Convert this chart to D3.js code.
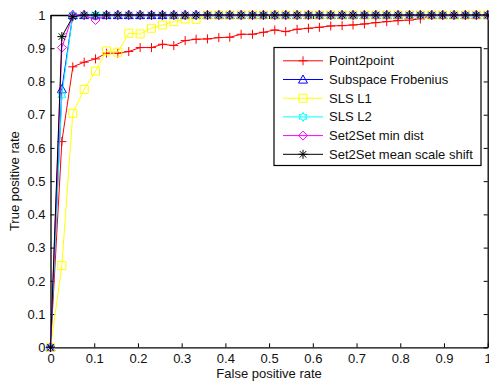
<!DOCTYPE html>
<html>
<head>
<meta charset="utf-8">
<script src="https://cdn.jsdelivr.net/npm/d3@7"></script>
<style>
  html, body { margin: 0; padding: 0; background: #fff; }
  svg { display: block; font-family: "Liberation Sans", Arial, sans-serif; }
</style>
</head>
<body>
<svg id="chart" width="489" height="382"></svg>
<script>
// ---- data ----
const fpr = [0, .026, .051, .077, .103, .128, .154, .179, .205, .231, .256, .282, .308, .333, .359, .385, .410, .436, .462, .487,
             .513, .538, .564, .590, .615, .641, .667, .692, .718, .744, .769, .795, .821, .846, .872, .897, .923, .949, .974, 1];
const point2point = [0, 0.619, 0.844, 0.858, 0.868, 0.885, 0.885, 0.890, 0.902, 0.902, 0.912, 0.908, 0.923, 0.927, 0.928, 0.932, 0.933, 0.942, 0.942, 0.948,
                     0.955, 0.950, 0.957, 0.960, 0.963, 0.967, 0.968, 0.970, 0.973, 0.977, 0.980, 0.983, 0.985, 0.988, 1, 1, 1, 1, 1, 1];
const subspaceFrob = [0, 0.777, 1, 1, 1, 1, 1, 1, 1, 1, 1, 1, 1, 1, 1, 1, 1, 1, 1, 1,
                      1, 1, 1, 1, 1, 1, 1, 1, 1, 1, 1, 1, 1, 1, 1, 1, 1, 1, 1, 1];
const slsL1 = [0, 0.246, 0.704, 0.776, 0.831, 0.892, 0.888, 0.945, 0.943, 0.960, 0.970, 0.980, 0.988, 0.987, 1, 1, 1, 1, 1, 1,
               1, 1, 1, 1, 1, 1, 1, 1, 1, 1, 1, 1, 1, 1, 1, 1, 1, 1, 1, 1];
const slsL2 = [0, 0.759, 1, 1, 1, 1, 1, 1, 1, 1, 1, 1, 1, 1, 1, 1, 1, 1, 1, 1,
               1, 1, 1, 1, 1, 1, 1, 1, 1, 1, 1, 1, 1, 1, 1, 1, 1, 1, 1, 1];
const set2setMin = [0, 0.902, 1, 1, 0.985, 1, 1, 1, 1, 1, 1, 1, 1, 1, 1, 1, 1, 1, 1, 1,
                    1, 1, 1, 1, 1, 1, 1, 1, 1, 1, 1, 1, 1, 1, 1, 1, 1, 1, 1, 1];
const set2setMean = [0, 0.935, 0.995, 1, 1, 1, 1, 1, 1, 1, 1, 1, 1, 1, 1, 1, 1, 1, 1, 1,
                     1, 1, 1, 1, 1, 1, 1, 1, 1, 1, 1, 1, 1, 1, 1, 1, 1, 1, 1, 1];
const seriesNames = ["Point2point", "Subspace Frobenius", "SLS L1", "SLS L2", "Set2Set min dist", "Set2Set mean scale shift"];
const seriesValues = [point2point, subspaceFrob, slsL1, slsL2, set2setMin, set2setMean];
const seriesColors = ["#ff0000", "#0000ff", "#ffff00", "#00ffff", "#ff00ff", "#000000"];
const seriesMarkers = ["plus", "triangle", "square", "hexagram", "diamond", "asterisk"];
const xTicks = [0, 0.1, 0.2, 0.3, 0.4, 0.5, 0.6, 0.7, 0.8, 0.9, 1];
const yTicks = [0, 0.1, 0.2, 0.3, 0.4, 0.5, 0.6, 0.7, 0.8, 0.9, 1];
const xLabel = "False positive rate";
const yLabel = "True positive rate";

// ---- layout ----
const svg = d3.select("#chart");
const L = 50.5, R = 487.7, T = 15, B = 347.3;
const x = d3.scaleLinear().domain([0, 1]).range([L, R]);
const y = d3.scaleLinear().domain([0, 1]).range([B, T]);
const fmt = d => d3.format("~g")(d);

// axes
const ax = svg.append("g");
ax.append("g").attr("transform", `translate(0,${B})`)
  .call(d3.axisBottom(x).tickValues(xTicks).tickFormat(fmt).tickSizeInner(-4).tickSizeOuter(0).tickPadding(6));
ax.append("g").attr("transform", `translate(0,${T})`)
  .call(d3.axisTop(x).tickValues(xTicks).tickFormat("").tickSizeInner(-4).tickSizeOuter(0));
ax.append("g").attr("transform", `translate(${L},0)`)
  .call(d3.axisLeft(y).tickValues(yTicks).tickFormat(fmt).tickSizeInner(-4).tickSizeOuter(0).tickPadding(5));
ax.append("g").attr("transform", `translate(${R},0)`)
  .call(d3.axisRight(y).tickValues(yTicks).tickFormat("").tickSizeInner(-4).tickSizeOuter(0));
ax.selectAll("path.domain").attr("stroke", "#000").attr("stroke-width", 1.3);
ax.selectAll(".tick line").attr("stroke", "#000").attr("stroke-width", 1);
ax.selectAll(".tick text").attr("font-size", 13).attr("fill", "#111")
  .attr("font-family", "'Liberation Sans', Arial, sans-serif");

// axis labels
svg.append("text").attr("x", (L + R) / 2).attr("y", 378).attr("text-anchor", "middle")
  .attr("font-size", 13).attr("fill", "#111").text(xLabel);
svg.append("text").attr("transform", `translate(19,${(T + B) / 2}) rotate(-90)`).attr("text-anchor", "middle")
  .attr("font-size", 13).attr("fill", "#111").text(yLabel);

// marker paths
function markerPath(type, s) {
  const h = s / 2;
  switch (type) {
    case "plus": return `M${-h},0H${h}M0,${-h}V${h}`;
    case "triangle": return `M0,${-h}L${h},${h * 0.8}L${-h},${h * 0.8}Z`;
    case "square": return `M${-h},${-h}H${h}V${h}H${-h}Z`;
    case "diamond": return `M0,${-h}L${h},0L0,${h}L${-h},0Z`;
    case "asterisk": {
      const d = h * 0.72;
      return `M${-h},0H${h}M0,${-h}V${h}M${-d},${-d}L${d},${d}M${-d},${d}L${d},${-d}`;
    }
    case "hexagram": {
      const pts = [];
      for (let k = 0; k < 12; k++) {
        const r = k % 2 === 0 ? h : h * 0.55;
        const a = -Math.PI / 2 + k * Math.PI / 6;
        pts.push([r * Math.cos(a), r * Math.sin(a)]);
      }
      return "M" + pts.map(p => p[0].toFixed(2) + "," + p[1].toFixed(2)).join("L") + "Z";
    }
  }
}

const line = d3.line().x((d, i) => x(fpr[i])).y(d => y(d));
const plot = svg.append("g");
seriesValues.forEach((vals, si) => {
  const g = plot.append("g");
  g.append("path").datum(vals).attr("d", line).attr("fill", "none")
    .attr("stroke", seriesColors[si]).attr("stroke-width", 1);
  g.selectAll("path.m").data(vals).enter().append("path").attr("class", "m")
    .attr("transform", (d, i) => `translate(${x(fpr[i])},${y(d)})`)
    .attr("d", markerPath(seriesMarkers[si], seriesMarkers[si] === "square" ? 8 : 9))
    .attr("fill", "none").attr("stroke", seriesColors[si]).attr("stroke-width", 1);
});

// legend
const lg = svg.append("g");
lg.append("rect").attr("x", 274).attr("y", 47.5).attr("width", 207).attr("height", 118)
  .attr("fill", "#fff").attr("stroke", "#000").attr("stroke-width", 1.2);
seriesNames.forEach((name, si) => {
  const yy = 60.8 + si * 18.7;
  lg.append("line").attr("x1", 283).attr("x2", 323).attr("y1", yy).attr("y2", yy)
    .attr("stroke", seriesColors[si]).attr("stroke-width", 1);
  lg.append("path").attr("transform", `translate(303,${yy})`)
    .attr("d", markerPath(seriesMarkers[si], seriesMarkers[si] === "square" ? 8 : 9))
    .attr("fill", "none").attr("stroke", seriesColors[si]).attr("stroke-width", 1);
  lg.append("text").attr("x", 329).attr("y", yy).attr("dy", "0.35em")
    .attr("font-size", 13).attr("fill", "#111").text(name);
});
</script>
</body>
</html>
